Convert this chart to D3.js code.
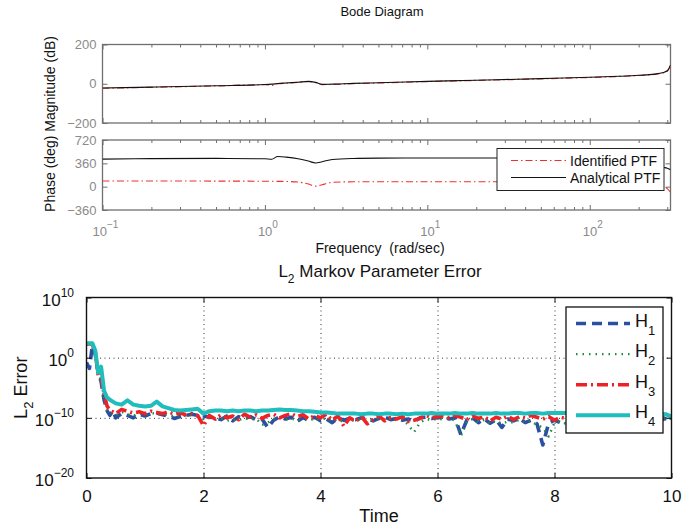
<!DOCTYPE html>
<html>
<head>
<meta charset="utf-8">
<script src="https://cdn.jsdelivr.net/npm/d3@7"></script>
<style>
  body { margin: 0; background: #fff; }
  svg { font-family: "Liberation Sans", Arial, sans-serif; }
</style>
</head>
<body>
<div id="chart"></div>
<script>
// bode: frequency (rad/sec), magnitude (dB), phase (deg)
const bodeFreq = [0.1, 0.2, 0.5, 1.0, 1.1, 1.2, 1.35, 1.6, 1.85, 2.05, 2.25, 2.6, 3.5, 5, 10, 20, 50, 100, 150, 200, 250, 280, 300, 314]
const magAnalytical = [-22, -17, -10, -4, -2, 1, 4, 8, 12, 7, -3, -2, 2, 5, 12, 18, 26, 33, 38, 43, 49, 56, 66, 95]
const magIdentified = [-23, -18, -11, -5, -8, 0, 3, 7, 11, 6, -4, -3, 1, 4, 11, 17, 25, 32, 37, 42, 48, 55, 64, 90]
const phaseAnalytical = [425, 432, 436, 430, 424, 465, 456, 432, 395, 365, 385, 420, 435, 440, 442, 442, 442, 441, 440, 420, 360, 300, 285, 262]
const phaseIdentified = [88, 88, 86, 84, 83, 82, 80, 72, 40, 8, 30, 68, 75, 76, 76, 76, 76, 76, 75, 72, 60, 20, -30, -85]
const magTicks = [-200, 0, 200]
const phaseTicks = [-360, 0, 360, 720]
const decades = [0.1, 1, 10, 100]
const bodeLegend = ['Identified PTF', 'Analytical PTF']

// markov parameter error, stored as log10 of the L2 error
const time = [0, 0.05, 0.1, 0.15, 0.2, 0.25, 0.3, 0.35, 0.4, 0.45,
  0.5, 0.6, 0.7, 0.8, 0.9, 1.0, 1.1, 1.2, 1.3, 1.4,
  1.5, 1.6, 1.7, 1.8, 1.9, 2.0, 2.1, 2.2, 2.3, 2.4,
  2.5, 2.6, 2.7, 2.8, 2.9, 3.0, 3.1, 3.2, 3.3, 3.4,
  3.5, 3.6, 3.7, 3.8, 3.9, 4.0, 4.1, 4.2, 4.3, 4.4,
  4.5, 4.6, 4.7, 4.8, 4.9, 5.0, 5.1, 5.2, 5.3, 5.4,
  5.5, 5.6, 5.7, 5.8, 5.9, 6.0, 6.1, 6.2, 6.3, 6.4,
  6.5, 6.6, 6.7, 6.8, 6.9, 7.0, 7.1, 7.2, 7.3, 7.4,
  7.5, 7.6, 7.7, 7.8, 7.9, 8.0, 8.1, 8.2, 8.3, 8.4,
  8.5, 8.6, 8.7, 8.8, 8.9, 9.0, 9.1, 9.2, 9.3, 9.4,
  9.5, 9.6, 9.7, 9.8, 9.9, 10.0]
const h1Exp = [-0.8, -1.8, 2.0, 0.5, -2.5, -4.0, -7.0, -8.8, -9.6, -8.8,
  -10.0, -9.3, -9.6, -10.0, -9.4, -9.7, -9.3, -9.2, -9.5, -9.7,
  -10.1, -9.8, -9.6, -9.4, -9.6, -9.7, -9.9, -10.0, -10.3, -9.7,
  -10.5, -9.8, -10.1, -9.8, -10.3, -10.2, -11.6, -10.4, -9.8, -10.2,
  -9.9, -10.6, -10.0, -10.3, -9.9, -10.5, -10.2, -10.8, -10.0, -10.4,
  -10.1, -10.3, -10.0, -10.2, -10.5, -10.1, -9.9, -10.3, -10.1, -10.4,
  -10.2, -10.6, -10.0, -9.9, -10.1, -10.0, -9.9, -10.2, -10.0, -12.8,
  -10.4, -10.0, -10.8, -10.2, -10.9, -10.3, -11.6, -10.2, -10.5, -10.1,
  -10.8, -10.4, -11.0, -14.5, -10.9, -10.4, -10.8, -10.9, -11.2, -10.8,
  -10.6, -10.9, -10.5, -10.8, -10.4, -10.7, -10.5, -10.9, -10.4, -10.6,
  -10.3, -10.5, -10.2, -10.4, -10.1, -10.3]
const h2Exp = [2.2, 2.2, 2.0, 0.0, -2.8, -3.8, -6.8, -8.6, -9.3, -9.2,
  -9.6, -9.0, -9.4, -9.7, -9.2, -9.5, -9.2, -9.3, -9.6, -9.4,
  -9.8, -9.5, -9.7, -9.5, -9.8, -10.2, -10.0, -10.3, -10.1, -10.5,
  -10.2, -10.4, -10.0, -10.3, -10.1, -11.2, -10.8, -10.2, -10.0, -10.3,
  -10.1, -10.4, -10.2, -10.5, -10.1, -10.4, -10.0, -10.6, -10.2, -10.8,
  -10.3, -10.5, -10.1, -10.6, -10.3, -10.2, -10.6, -10.1, -10.4, -10.2,
  -11.2, -12.4, -10.8, -10.2, -10.4, -10.1, -10.3, -10.0, -10.5, -13.0,
  -10.6, -10.2, -10.7, -10.3, -11.0, -10.4, -11.0, -10.6, -10.8, -10.3,
  -10.9, -10.5, -11.2, -11.6, -13.1, -10.8, -10.6, -11.0, -10.7, -10.9,
  -10.5, -10.8, -10.4, -10.7, -10.3, -10.6, -10.4, -10.7, -10.3, -10.5,
  -10.2, -10.4, -10.1, -10.3, -10.0, -10.2]
const h3Exp = [2.3, 2.3, 2.3, 1.0, -3.0, -3.4, -6.0, -8.0, -8.8, -9.0,
  -9.3, -8.6, -8.9, -9.2, -9.0, -9.3, -8.9, -9.1, -9.3, -9.0,
  -9.4, -9.2, -9.5, -9.3, -9.6, -11.3, -9.6, -10.2, -9.5, -10.0,
  -9.7, -10.3, -9.4, -9.9, -9.5, -10.1, -9.6, -9.4, -10.0, -9.6,
  -9.3, -9.8, -9.5, -10.2, -9.6, -10.0, -9.4, -10.4, -9.7, -11.4,
  -10.0, -10.6, -9.8, -11.0, -10.3, -9.7, -10.5, -9.9, -10.2, -9.8,
  -10.6, -10.4, -10.1, -9.6, -10.0, -9.8, -9.7, -10.0, -9.6, -9.9,
  -10.3, -9.7, -10.1, -9.8, -10.5, -9.9, -10.2, -9.7, -10.3, -9.8,
  -10.0, -9.6, -9.9, -10.2, -9.8, -10.4, -9.9, -10.1, -9.7, -10.0,
  -9.8, -10.1, -9.7, -9.9, -10.2, -9.8, -10.0, -9.7, -9.9, -9.6,
  -9.8, -9.7, -9.9, -9.6, -9.5, -9.7]
const h4Exp = [2.4, 2.4, 2.4, 1.2, -2.5, -1.5, -5.5, -6.6, -7.0, -7.3,
  -7.6, -7.8, -7.1, -7.8, -8.0, -8.1, -8.0, -7.3, -8.1, -8.4,
  -8.7, -8.8, -8.7, -8.6, -8.5, -9.3, -8.9, -8.8, -8.8, -8.9,
  -8.8, -8.9, -8.8, -8.8, -8.9, -8.8, -8.8, -8.7, -8.6, -8.7,
  -8.7, -8.8, -8.9, -8.9, -9.0, -9.1, -9.1, -9.2, -9.3, -9.3,
  -9.3, -9.3, -9.4, -9.3, -9.3, -9.4, -9.3, -9.3, -9.4, -9.3,
  -9.4, -9.3, -9.3, -9.3, -9.2, -9.3, -9.3, -9.3, -9.2, -9.3,
  -9.3, -9.2, -9.3, -9.3, -9.3, -9.2, -9.3, -9.3, -9.2, -9.2,
  -9.3, -9.2, -9.2, -9.3, -9.2, -9.2, -9.2, -9.2, -9.3, -9.2,
  -9.2, -9.3, -9.2, -9.2, -9.3, -9.2, -9.2, -9.3, -9.2, -9.3,
  -9.3, -9.2, -9.3, -9.3, -9.4, -9.8]
const timeTicks = [0, 2, 4, 6, 8, 10]
const errTicks = [-20, -10, 0, 10]
const seriesNames = ['1', '2', '3', '4']

const axisGrey = '#6f6f6f'
const labelGrey = '#8a8a8a'

const svg = d3.select('#chart')
  .append('svg')
    .attr('width', 682)
    .attr('height', 526)

// ---------- bode ----------
const bx0 = 102.5, bx1 = 670.5
const fx = d3.scaleLog().domain([0.1, 314.16]).range([bx0, bx1])
const yMag = d3.scaleLinear().domain([-200, 200]).range([123, 44.5])
const yPh = d3.scaleLinear().domain([-360, 720]).range([210, 140])
const minorFreq = fx.ticks().filter(f => !decades.some(d => Math.abs(d - f) < 1e-9))
const fmtNum = d => d < 0 ? '\u2212' + Math.abs(d) : String(d)

function bodeFrame(ys, yTicks) {
  const top = ys.range()[1], bot = ys.range()[0]
  const g = svg.append('g')
  const tickSets = [[minorFreq, 3], [decades, 5]]
  tickSets.forEach(([vals, len]) => {
    g.append('g')
      .attr('transform', `translate(0,${bot})`)
      .call(d3.axisBottom(fx).tickValues(vals).tickSizeInner(-len).tickSizeOuter(0).tickFormat(''))
    g.append('g')
      .attr('transform', `translate(0,${top})`)
      .call(d3.axisTop(fx).tickValues(vals).tickSizeInner(-len).tickSizeOuter(0).tickFormat(''))
  })
  g.append('g')
    .attr('transform', `translate(${bx0},0)`)
    .call(d3.axisLeft(ys).tickValues(yTicks).tickSizeInner(-5).tickSizeOuter(0).tickFormat(''))
  g.append('g')
    .attr('transform', `translate(${bx1},0)`)
    .call(d3.axisRight(ys).tickValues(yTicks).tickSizeInner(-5).tickSizeOuter(0).tickFormat(''))
  g.selectAll('.domain').remove()
  g.selectAll('line').attr('stroke', axisGrey)
  g.append('rect')
    .attr('x', bx0).attr('y', top)
    .attr('width', bx1 - bx0).attr('height', bot - top)
    .attr('fill', 'none')
    .attr('stroke', axisGrey)
    .attr('stroke-width', 1.3)
  g.selectAll('text.ylab')
    .data(yTicks)
    .join('text')
      .attr('class', 'ylab')
      .attr('x', bx0 - 6)
      .attr('y', d => ys(d))
      .attr('dy', '0.36em')
      .attr('text-anchor', 'end')
      .attr('font-size', 13)
      .attr('fill', labelGrey)
      .text(fmtNum)
  return g
}

bodeFrame(yMag, magTicks)
bodeFrame(yPh, phaseTicks)

svg.append('clipPath').attr('id', 'clipMag')
  .append('rect').attr('x', bx0).attr('y', 44.5).attr('width', bx1 - bx0).attr('height', 123 - 44.5)
svg.append('clipPath').attr('id', 'clipPh')
  .append('rect').attr('x', bx0).attr('y', 140).attr('width', bx1 - bx0).attr('height', 70)

const bodeLine = ys => d3.line().x(d => fx(d[0])).y(d => ys(d[1])).curve(d3.curveMonotoneX)

const redDash = '7,3,1.5,3'
svg.append('path')
  .datum(d3.zip(bodeFreq, magIdentified))
  .attr('clip-path', 'url(#clipMag)')
  .attr('d', bodeLine(yMag))
  .attr('fill', 'none').attr('stroke', '#e83a3a').attr('stroke-width', 1.2).attr('stroke-dasharray', redDash)
svg.append('path')
  .datum(d3.zip(bodeFreq, magAnalytical))
  .attr('clip-path', 'url(#clipMag)')
  .attr('d', bodeLine(yMag))
  .attr('fill', 'none').attr('stroke', '#111').attr('stroke-width', 1.1)
svg.append('path')
  .datum(d3.zip(bodeFreq, phaseIdentified))
  .attr('clip-path', 'url(#clipPh)')
  .attr('d', bodeLine(yPh))
  .attr('fill', 'none').attr('stroke', '#f03030').attr('stroke-width', 1.1).attr('stroke-dasharray', redDash)
svg.append('path')
  .datum(d3.zip(bodeFreq, phaseAnalytical))
  .attr('clip-path', 'url(#clipPh)')
  .attr('d', bodeLine(yPh))
  .attr('fill', 'none').attr('stroke', '#111').attr('stroke-width', 1.1)

// decade labels 10^n
const decLab = svg.selectAll('text.dec')
  .data(decades)
  .join('text')
    .attr('class', 'dec')
    .attr('x', d => fx(d) + 3)
    .attr('y', 236)
    .attr('text-anchor', 'middle')
    .attr('font-size', 13)
    .attr('fill', labelGrey)
decLab.append('tspan').text('10')
decLab.append('tspan').attr('dy', -8).attr('font-size', 10).text(d => fmtNum(Math.round(Math.log10(d))))

svg.append('text')
  .attr('x', 382).attr('y', 16)
  .attr('text-anchor', 'middle').attr('font-size', 13).attr('fill', '#111')
  .text('Bode Diagram')
svg.append('text')
  .attr('x', 380).attr('y', 253)
  .attr('text-anchor', 'middle').attr('font-size', 14).attr('fill', '#111')
  .attr('xml:space', 'preserve')
  .text('Frequency  (rad/sec)')
svg.append('text')
  .attr('transform', 'translate(55,124) rotate(-90)')
  .attr('text-anchor', 'middle').attr('font-size', 14).attr('fill', '#111')
  .text('Phase (deg) Magnitude (dB)')

// bode legend
const bl = svg.append('g')
bl.append('rect')
  .attr('x', 497).attr('y', 148.5).attr('width', 167).attr('height', 42)
  .attr('fill', '#fff').attr('stroke', '#222').attr('stroke-width', 1)
bl.selectAll('g')
  .data(bodeLegend)
  .join('g')
    .attr('transform', (d, i) => `translate(0,${160.5 + i * 17})`)
    .each(function (d, i) {
      const e = d3.select(this)
      e.append('line').attr('x1', 511).attr('x2', 566)
        .attr('stroke', i === 0 ? '#f03030' : '#111').attr('stroke-width', 1.1)
        .attr('stroke-dasharray', i === 0 ? redDash : null)
      e.append('text').attr('x', 570).attr('y', 5).attr('font-size', 14).attr('fill', '#111').text(d)
    })

// ---------- markov parameter error ----------
const px0 = 86.5, px1 = 671.5, pTop = 297.5, pBot = 478
const tx = d3.scaleLinear().domain([0, 10]).range([px0, px1])
const ty = d3.scaleLog().domain([1e-20, 1e10]).range([pBot, pTop])

const grid = svg.append('g')
grid.append('g')
  .attr('transform', `translate(0,${pBot})`)
  .call(d3.axisBottom(tx).tickValues([2, 4, 6, 8]).tickSize(-(pBot - pTop)).tickFormat(''))
grid.append('g')
  .attr('transform', `translate(${px0},0)`)
  .call(d3.axisLeft(ty).tickValues([1e0, 1e-10]).tickSize(-(px1 - px0)).tickFormat(''))
grid.selectAll('.domain').remove()
grid.selectAll('line').attr('stroke', '#333').attr('stroke-width', 1).attr('stroke-dasharray', '1,3.5')

svg.append('clipPath').attr('id', 'clipErr')
  .append('rect').attr('x', px0).attr('y', pTop).attr('width', px1 - px0).attr('height', pBot - pTop)

const styles = [
  { color: '#2c4fa3', width: 3.6, dash: '10,6' },
  { color: '#1d8a47', width: 2.4, dash: '1.5,5' },
  { color: '#ee2226', width: 3.6, dash: '11,4,2,4' },
  { color: '#20bdbd', width: 4, dash: null }
]
const series = [h1Exp, h2Exp, h3Exp, h4Exp]
const errLine = d3.line().x(d => tx(d[0])).y(d => ty(Math.pow(10, d[1])))

svg.append('g')
  .attr('clip-path', 'url(#clipErr)')
  .selectAll('path')
  .data(series)
  .join('path')
    .attr('d', s => errLine(d3.zip(time, s)))
    .attr('fill', 'none')
    .attr('stroke', (d, i) => styles[i].color)
    .attr('stroke-width', (d, i) => styles[i].width)
    .attr('stroke-dasharray', (d, i) => styles[i].dash)
    .attr('stroke-linejoin', 'round')

const ax = svg.append('g')
ax.append('g')
  .attr('transform', `translate(0,${pBot})`)
  .call(d3.axisBottom(tx).tickValues(timeTicks).tickSizeInner(-5).tickSizeOuter(0).tickPadding(12).tickFormat(d3.format('d')))
ax.append('g')
  .attr('transform', `translate(0,${pTop})`)
  .call(d3.axisTop(tx).tickValues(timeTicks).tickSizeInner(-5).tickSizeOuter(0).tickFormat(''))
ax.append('g')
  .attr('transform', `translate(${px0},0)`)
  .call(d3.axisLeft(ty).tickValues(errTicks.map(e => Math.pow(10, e))).tickSizeInner(-5).tickSizeOuter(0).tickFormat(''))
ax.append('g')
  .attr('transform', `translate(${px1},0)`)
  .call(d3.axisRight(ty).tickValues(errTicks.map(e => Math.pow(10, e))).tickSizeInner(-5).tickSizeOuter(0).tickFormat(''))
ax.selectAll('.domain').remove()
ax.selectAll('line').attr('stroke', '#111').attr('stroke-width', 1)
ax.selectAll('text').attr('font-size', 17).attr('fill', '#111').attr('font-family', null)
ax.append('rect')
  .attr('x', px0).attr('y', pTop).attr('width', px1 - px0).attr('height', pBot - pTop)
  .attr('fill', 'none').attr('stroke', '#111').attr('stroke-width', 1.4)

const eLab = svg.selectAll('text.elab')
  .data(errTicks)
  .join('text')
    .attr('class', 'elab')
    .attr('x', 74)
    .attr('y', d => ty(Math.pow(10, d)) + 8)
    .attr('text-anchor', 'end')
    .attr('font-size', 17)
    .attr('fill', '#111')
eLab.append('tspan').text('10')
eLab.append('tspan').attr('dy', -9).attr('font-size', 12).text(d => fmtNum(d))

const title = svg.append('text')
  .attr('x', 380).attr('y', 277)
  .attr('text-anchor', 'middle').attr('font-size', 17).attr('fill', '#111')
title.append('tspan').text('L')
title.append('tspan').attr('dy', 6).attr('font-size', 12).text('2')
title.append('tspan').attr('dy', -6).text(' Markov Parameter Error')

svg.append('text')
  .attr('x', 379).attr('y', 522)
  .attr('text-anchor', 'middle').attr('font-size', 18).attr('fill', '#111')
  .text('Time')

const yl = svg.append('text')
  .attr('transform', `translate(27,${(pTop + pBot) / 2}) rotate(-90)`)
  .attr('text-anchor', 'middle').attr('font-size', 18).attr('fill', '#111')
yl.append('tspan').text('L')
yl.append('tspan').attr('dy', 6).attr('font-size', 13).text('2')
yl.append('tspan').attr('dy', -6).text(' Error')

// legend
const lg = svg.append('g')
lg.append('rect')
  .attr('x', 566).attr('y', 307).attr('width', 97).attr('height', 126)
  .attr('fill', '#fff').attr('stroke', '#111').attr('stroke-width', 1.3)
lg.selectAll('g')
  .data(seriesNames)
  .join('g')
    .attr('transform', (d, i) => `translate(0,${323.5 + i * 30.6})`)
    .each(function (d, i) {
      const e = d3.select(this)
      e.append('line').attr('x1', 576).attr('x2', 630)
        .attr('stroke', styles[i].color).attr('stroke-width', styles[i].width)
        .attr('stroke-dasharray', styles[i].dash)
      const t = e.append('text').attr('x', 635).attr('y', 3).attr('font-size', 18).attr('fill', '#111')
      t.append('tspan').text('H')
      t.append('tspan').attr('dy', 8).attr('font-size', 13).text(d)
    })
</script>
</body>
</html>
